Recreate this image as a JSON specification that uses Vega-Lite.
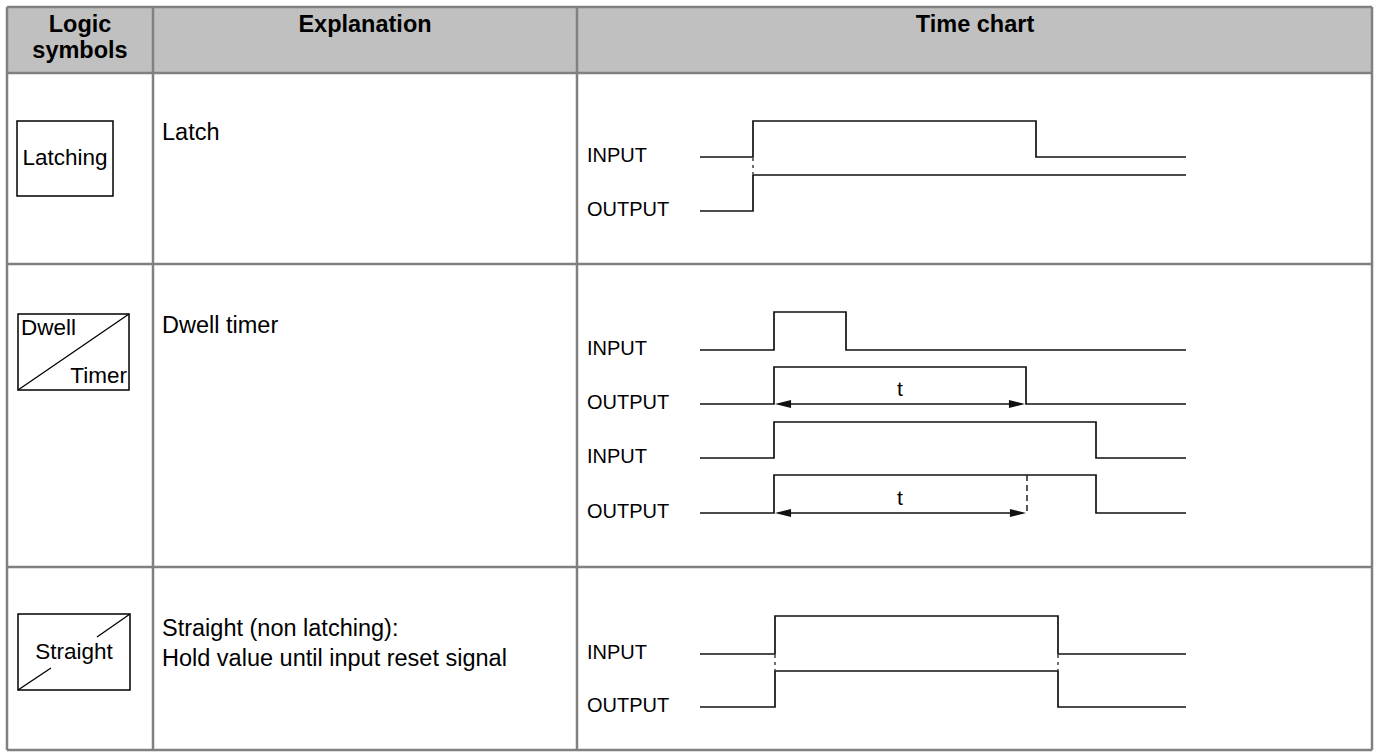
{
  "$schema": "https://vega.github.io/schema/vega-lite/v6.json",
  "width": 1378,
  "height": 756,
  "autosize": {"type": "fit", "contains": "padding"},
  "padding": 0,
  "background": "white",
  "config": {"view": {"stroke": null}, "font": "Liberation Sans"},
  "datasets": {
    "header": [{"x": 7, "x2": 1372, "y": 7, "y2": 73}],
    "grid": [
      {"x": 7, "x2": 1372, "y": 7, "y2": 7},
      {"x": 7, "x2": 1372, "y": 73, "y2": 73},
      {"x": 7, "x2": 1372, "y": 264, "y2": 264},
      {"x": 7, "x2": 1372, "y": 567, "y2": 567},
      {"x": 7, "x2": 1372, "y": 750, "y2": 750},
      {"x": 7, "x2": 7, "y": 7, "y2": 750},
      {"x": 153, "x2": 153, "y": 7, "y2": 750},
      {"x": 577, "x2": 577, "y": 7, "y2": 750},
      {"x": 1372, "x2": 1372, "y": 7, "y2": 750}
    ],
    "boxes": [
      {"x": 17, "x2": 113, "y": 121, "y2": 196},
      {"x": 18, "x2": 129, "y": 314, "y2": 390},
      {"x": 18, "x2": 130, "y": 614, "y2": 690}
    ],
    "diagonals": [
      {"x": 18, "x2": 129, "y": 390, "y2": 314},
      {"x": 130, "x2": 97, "y": 614, "y2": 637},
      {"x": 18, "x2": 51, "y": 690, "y2": 668}
    ],
    "waves": [
      {"s": "L_in", "o": 1, "x": 700, "y": 157}, {"s": "L_in", "o": 2, "x": 753, "y": 157}, {"s": "L_in", "o": 3, "x": 753, "y": 121}, {"s": "L_in", "o": 4, "x": 1036, "y": 121}, {"s": "L_in", "o": 5, "x": 1036, "y": 157}, {"s": "L_in", "o": 6, "x": 1186, "y": 157},
      {"s": "L_out", "o": 1, "x": 700, "y": 211}, {"s": "L_out", "o": 2, "x": 753, "y": 211}, {"s": "L_out", "o": 3, "x": 753, "y": 175}, {"s": "L_out", "o": 4, "x": 1186, "y": 175},
      {"s": "D_in1", "o": 1, "x": 700, "y": 350}, {"s": "D_in1", "o": 2, "x": 774, "y": 350}, {"s": "D_in1", "o": 3, "x": 774, "y": 312}, {"s": "D_in1", "o": 4, "x": 846, "y": 312}, {"s": "D_in1", "o": 5, "x": 846, "y": 350}, {"s": "D_in1", "o": 6, "x": 1186, "y": 350},
      {"s": "D_out1", "o": 1, "x": 700, "y": 404}, {"s": "D_out1", "o": 2, "x": 774, "y": 404}, {"s": "D_out1", "o": 3, "x": 774, "y": 367}, {"s": "D_out1", "o": 4, "x": 1026, "y": 367}, {"s": "D_out1", "o": 5, "x": 1026, "y": 404}, {"s": "D_out1", "o": 6, "x": 1186, "y": 404},
      {"s": "D_in2", "o": 1, "x": 700, "y": 458}, {"s": "D_in2", "o": 2, "x": 774, "y": 458}, {"s": "D_in2", "o": 3, "x": 774, "y": 422}, {"s": "D_in2", "o": 4, "x": 1096, "y": 422}, {"s": "D_in2", "o": 5, "x": 1096, "y": 458}, {"s": "D_in2", "o": 6, "x": 1186, "y": 458},
      {"s": "D_out2", "o": 1, "x": 700, "y": 513}, {"s": "D_out2", "o": 2, "x": 774, "y": 513}, {"s": "D_out2", "o": 3, "x": 774, "y": 475}, {"s": "D_out2", "o": 4, "x": 1096, "y": 475}, {"s": "D_out2", "o": 5, "x": 1096, "y": 513}, {"s": "D_out2", "o": 6, "x": 1186, "y": 513},
      {"s": "S_in", "o": 1, "x": 700, "y": 654}, {"s": "S_in", "o": 2, "x": 775, "y": 654}, {"s": "S_in", "o": 3, "x": 775, "y": 616}, {"s": "S_in", "o": 4, "x": 1058, "y": 616}, {"s": "S_in", "o": 5, "x": 1058, "y": 654}, {"s": "S_in", "o": 6, "x": 1186, "y": 654},
      {"s": "S_out", "o": 1, "x": 700, "y": 707}, {"s": "S_out", "o": 2, "x": 775, "y": 707}, {"s": "S_out", "o": 3, "x": 775, "y": 671}, {"s": "S_out", "o": 4, "x": 1058, "y": 671}, {"s": "S_out", "o": 5, "x": 1058, "y": 707}, {"s": "S_out", "o": 6, "x": 1186, "y": 707}
    ],
    "dotted": [
      {"x": 753, "x2": 753, "y": 158, "y2": 174},
      {"x": 775, "x2": 775, "y": 655, "y2": 670},
      {"x": 1058, "x2": 1058, "y": 655, "y2": 670}
    ],
    "dashed": [
      {"x": 1027, "x2": 1027, "y": 475, "y2": 513}
    ],
    "shafts": [
      {"x": 778, "x2": 1022, "y": 404, "y2": 404},
      {"x": 778, "x2": 1023, "y": 513, "y2": 513}
    ],
    "heads": [
      {"dir": "left", "x": 783, "y": 404},
      {"dir": "right", "x": 1017, "y": 404},
      {"dir": "left", "x": 783, "y": 513},
      {"dir": "right", "x": 1018, "y": 513}
    ],
    "headText": [
      {"label": "Logic", "x": 80, "y": 25},
      {"label": "symbols", "x": 80, "y": 51},
      {"label": "Explanation", "x": 365, "y": 25},
      {"label": "Time chart", "x": 975, "y": 25}
    ],
    "explain": [
      {"label": "Latch", "x": 162, "y": 133},
      {"label": "Dwell timer", "x": 162, "y": 326},
      {"label": "Straight (non latching):", "x": 162, "y": 629},
      {"label": "Hold value until input reset signal", "x": 162, "y": 659}
    ],
    "symCenter": [
      {"label": "Latching", "x": 65, "y": 158},
      {"label": "Straight", "x": 74, "y": 652}
    ],
    "symLeft": [{"label": "Dwell", "x": 21, "y": 328}],
    "symRight": [{"label": "Timer", "x": 127, "y": 376}],
    "sigLabels": [
      {"label": "INPUT", "x": 587, "y": 155.5},
      {"label": "OUTPUT", "x": 587, "y": 209.5},
      {"label": "INPUT", "x": 587, "y": 348.5},
      {"label": "OUTPUT", "x": 587, "y": 402.5},
      {"label": "INPUT", "x": 587, "y": 456.5},
      {"label": "OUTPUT", "x": 587, "y": 511.5},
      {"label": "INPUT", "x": 587, "y": 652.5},
      {"label": "OUTPUT", "x": 587, "y": 705.5}
    ],
    "tLabels": [
      {"label": "t", "x": 900, "y": 390},
      {"label": "t", "x": 900, "y": 499}
    ]
  },
  "encoding": {
    "x": {"field": "x", "type": "quantitative", "scale": {"domain": [0, 1378], "nice": false, "zero": false}, "axis": null},
    "y": {"field": "y", "type": "quantitative", "scale": {"domain": [0, 756], "nice": false, "zero": false, "reverse": true}, "axis": null}
  },
  "layer": [
    {
      "data": {"name": "header"},
      "mark": {"type": "rect", "fill": "#c0c0c0", "stroke": null},
      "encoding": {"x2": {"field": "x2"}, "y2": {"field": "y2"}}
    },
    {
      "data": {"name": "boxes"},
      "mark": {"type": "rect", "fill": null, "stroke": "#000000", "strokeWidth": 1.5},
      "encoding": {"x2": {"field": "x2"}, "y2": {"field": "y2"}}
    },
    {
      "data": {"name": "diagonals"},
      "mark": {"type": "rule", "stroke": "#000000", "strokeWidth": 1.3},
      "encoding": {"x2": {"field": "x2"}, "y2": {"field": "y2"}}
    },
    {
      "data": {"name": "grid"},
      "mark": {"type": "rule", "stroke": "#808080", "strokeWidth": 2.5},
      "encoding": {"x2": {"field": "x2"}, "y2": {"field": "y2"}}
    },
    {
      "data": {"name": "waves"},
      "mark": {"type": "line", "stroke": "#111111", "strokeWidth": 1.7, "strokeJoin": "miter"},
      "encoding": {"detail": {"field": "s"}, "order": {"field": "o", "type": "quantitative"}}
    },
    {
      "data": {"name": "dotted"},
      "mark": {"type": "rule", "stroke": "#111111", "strokeWidth": 1.2, "strokeDash": [3, 4]},
      "encoding": {"x2": {"field": "x2"}, "y2": {"field": "y2"}}
    },
    {
      "data": {"name": "dashed"},
      "mark": {"type": "rule", "stroke": "#111111", "strokeWidth": 1.4, "strokeDash": [6, 4]},
      "encoding": {"x2": {"field": "x2"}, "y2": {"field": "y2"}}
    },
    {
      "data": {"name": "shafts"},
      "mark": {"type": "rule", "stroke": "#111111", "strokeWidth": 1.6},
      "encoding": {"x2": {"field": "x2"}, "y2": {"field": "y2"}}
    },
    {
      "data": {"name": "heads"},
      "mark": {"type": "point", "filled": true, "color": "#111111", "size": 260, "opacity": 1},
      "encoding": {
        "shape": {"field": "dir", "type": "nominal", "legend": null,
          "scale": {"domain": ["left", "right"], "range": ["M-1,0L1,-0.5L1,0.5Z", "M1,0L-1,-0.5L-1,0.5Z"]}}
      }
    },
    {
      "data": {"name": "headText"},
      "mark": {"type": "text", "align": "center", "baseline": "middle", "fontSize": 23.5, "fontWeight": "bold", "color": "#000000"},
      "encoding": {"text": {"field": "label"}}
    },
    {
      "data": {"name": "explain"},
      "mark": {"type": "text", "align": "left", "baseline": "middle", "fontSize": 23.5, "color": "#000000"},
      "encoding": {"text": {"field": "label"}}
    },
    {
      "data": {"name": "symCenter"},
      "mark": {"type": "text", "align": "center", "baseline": "middle", "fontSize": 22.5, "color": "#000000"},
      "encoding": {"text": {"field": "label"}}
    },
    {
      "data": {"name": "symLeft"},
      "mark": {"type": "text", "align": "left", "baseline": "middle", "fontSize": 22.5, "color": "#000000"},
      "encoding": {"text": {"field": "label"}}
    },
    {
      "data": {"name": "symRight"},
      "mark": {"type": "text", "align": "right", "baseline": "middle", "fontSize": 22.5, "color": "#000000"},
      "encoding": {"text": {"field": "label"}}
    },
    {
      "data": {"name": "sigLabels"},
      "mark": {"type": "text", "align": "left", "baseline": "middle", "fontSize": 20, "color": "#000000"},
      "encoding": {"text": {"field": "label"}}
    },
    {
      "data": {"name": "tLabels"},
      "mark": {"type": "text", "align": "center", "baseline": "middle", "fontSize": 21, "color": "#000000"},
      "encoding": {"text": {"field": "label"}}
    }
  ]
}
